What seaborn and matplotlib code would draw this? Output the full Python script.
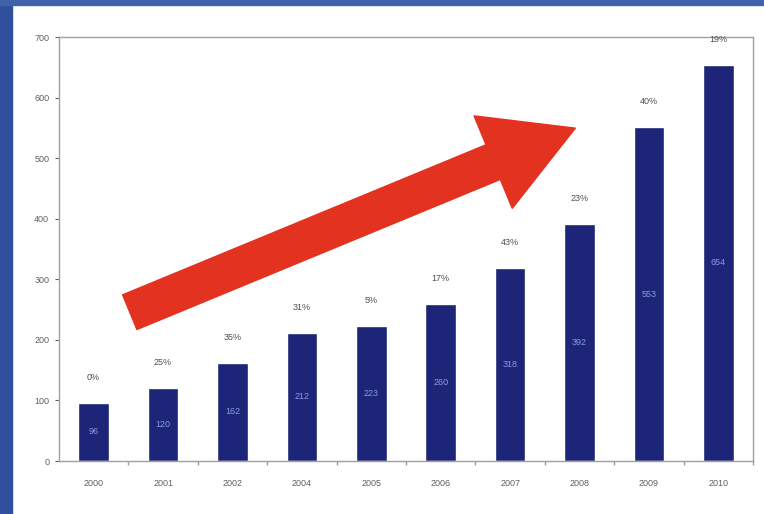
import matplotlib.pyplot as plt
import matplotlib.patches as mpatches
import numpy as np
import pandas as pd
import seaborn as sns

years = ["2000", "2001", "2002", "2004", "2005", "2006", "2007", "2008", "2009", "2010"]
values = [96, 120, 162, 212, 223, 260, 318, 392, 551, 654]
value_labels = ["96", "120", "162", "212", "223", "260", "318", "392", "553", "654"]
growth = ["0%", "25%", "35%", "31%", "5%", "17%", "43%", "23%", "40%", "19%"]

sns.set_theme(style="white")
plt.rcParams["font.family"] = ["Liberation Sans", "DejaVu Sans"]

df = pd.DataFrame({"year": years, "value": values})

fig = plt.figure(figsize=(7.64, 5.14), dpi=100)
fig.patch.set_facecolor("white")
# blue slide border
fig.add_artist(mpatches.Rectangle((0, 0), 12 / 764, 1, transform=fig.transFigure,
                                  color="#2d4f9c", zorder=0))
fig.add_artist(mpatches.Rectangle((0, 1 - 5 / 514), 1, 5 / 514, transform=fig.transFigure,
                                  color="#3f62a8", zorder=0))

ax = fig.add_axes([0.0772, 0.1031, 0.9084, 0.8249])
sns.barplot(df, x="year", y="value", color="#1c2577", saturation=1, width=0.44, ax=ax)

ax.set_ylim(0, 700)
ax.set_yticks(np.arange(0, 701, 100))
ax.set_xlabel("")
ax.set_ylabel("")
for s in ax.spines.values():
    s.set_color("#a0a0a0")
    s.set_linewidth(1.0)
ax.tick_params(axis="both", labelsize=6.5, colors="#606060", length=3, width=0.8,
               direction="out", left=True, bottom=False)
ax.tick_params(axis="y", pad=4)
ax.tick_params(axis="x", pad=10)
# small ticks between categories
ax.set_xticks(np.arange(len(years)) + 0.5, minor=True)
ax.tick_params(axis="x", which="minor", bottom=True, length=3, color="#a0a0a0")

for i, (v, lab, g) in enumerate(zip(values, value_labels, growth)):
    ax.text(i, v / 2, lab, ha="center", va="center", fontsize=6.5, color="#8a9be0")
    ax.text(i, v + 42, g, ha="center", va="center", fontsize=6.5, color="#505050")

ax.annotate("", xy=(0.744, 0.785), xytext=(0.102, 0.351),
            xycoords="axes fraction", textcoords="axes fraction",
            arrowprops=dict(arrowstyle="simple,head_length=64,head_width=72,tail_width=27",
                            mutation_scale=1, color="#e3321f", shrinkA=0, shrinkB=0))

fig.savefig("out.png", dpi=100)
